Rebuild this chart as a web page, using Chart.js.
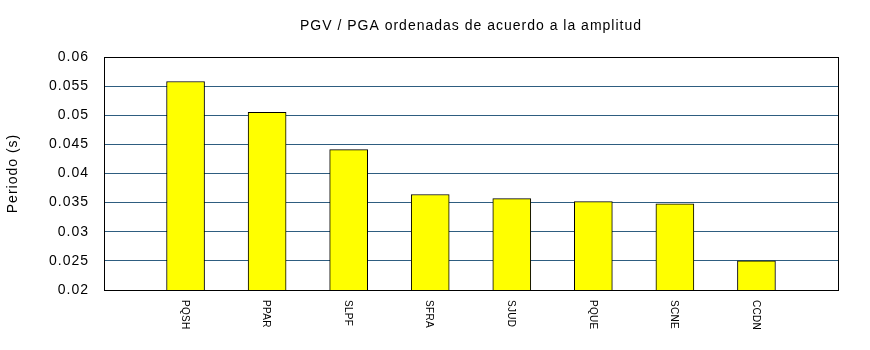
<!DOCTYPE html>
<html>
<head>
<meta charset="utf-8">
<title>PGV / PGA</title>
<script src="https://cdn.jsdelivr.net/npm/chart.js@4/dist/chart.umd.min.js"></script>
<style>
    html, body { margin: 0; padding: 0; background: #ffffff; }
    #wrap { width: 870px; height: 350px; }
</style>
</head>
<body>
<div id="wrap"><canvas id="chart" width="870" height="350"></canvas></div>
<script>
// estaciones ordenadas por amplitud
const stations = ['PQSH', 'PPAR', 'SLPF', 'SFRA', 'SJUD', 'PQUE', 'SCNE', 'CCDN'];
const periods = [0.0558, 0.0505, 0.0441, 0.0364, 0.0357, 0.0352, 0.0348, 0.0250];
const yTicks = [0.02, 0.025, 0.03, 0.035, 0.04, 0.045, 0.05, 0.055, 0.06];

const FONT = "'Liberation Sans', Arial, sans-serif";

// hueco vacío a cada lado del eje x
const labels = [''].concat(stations, ['']);
const values = [null].concat(periods, [null]);

// marco negro del área de datos + etiquetas verticales del eje x
const framePlugin = {
    id: 'frame',
    afterLayout(chart) {
        // título centrado sobre el área de datos
        if (chart.titleBlock) {
            chart.titleBlock.left = chart.chartArea.left;
            chart.titleBlock.right = chart.chartArea.right;
        }
    },
    beforeDraw(chart) {
        // texto algo más espaciado
        chart.ctx.letterSpacing = '1px';
    },
    afterDraw(chart) {
        const ctx = chart.ctx;
        const a = chart.chartArea;
        const x = chart.scales.x;
        ctx.save();
        ctx.strokeStyle = '#000000';
        ctx.lineWidth = 1;
        ctx.strokeRect(Math.round(a.left) + 0.5, Math.round(a.top) + 0.5,
            Math.round(a.right - a.left), Math.round(a.bottom - a.top));

        ctx.fillStyle = '#000000';
        ctx.font = '10px ' + FONT;
        ctx.letterSpacing = '0.3px';
        ctx.textAlign = 'left';
        ctx.textBaseline = 'middle';
        labels.forEach((lab, i) => {
            if (!lab) return;
            const px = x.getPixelForValue(i);
            ctx.save();
            ctx.translate(px - 1, a.bottom + 10);
            ctx.rotate(Math.PI / 2);
            ctx.fillText(lab, 0, 0);
            ctx.restore();
        });
        ctx.restore();
    }
};

new Chart(document.getElementById('chart'), {
    type: 'bar',
    data: {
        labels: labels,
        datasets: [{
            data: values,
            backgroundColor: '#ffff00',
            borderColor: '#000000',
            borderWidth: 1,
            borderSkipped: false,
            barThickness: 38
        }]
    },
    options: {
        responsive: false,
        animation: false,
        layout: { padding: { left: 0, right: 32, top: 0, bottom: 0 } },
        plugins: {
            legend: { display: false },
            tooltip: { enabled: false },
            title: {
                display: true,
                text: 'PGV / PGA ordenadas de acuerdo a la amplitud',
                color: '#000000',
                font: { family: FONT, size: 14, weight: 'normal' },
                padding: { top: 18, bottom: 22.2 }
            }
        },
        scales: {
            x: {
                type: 'category',
                offset: false,
                grid: { display: false },
                border: { display: false },
                ticks: { display: false },
                afterFit(scale) { scale.height = 60; }
            },
            y: {
                min: 0.02,
                max: 0.06,
                afterBuildTicks(scale) {
                    scale.ticks = yTicks.map(v => ({ value: v }));
                },
                ticks: {
                    color: '#000000',
                    padding: 15,
                    font: { family: FONT, size: 14 },
                    callback: v => String(+v.toFixed(3))
                },
                grid: { color: '#2e5d80', lineWidth: 1, drawTicks: false },
                border: { display: false },
                title: {
                    display: true,
                    text: 'Periodo (s)',
                    color: '#000000',
                    font: { family: FONT, size: 14 },
                    padding: { top: 5, bottom: 0 }
                },
                afterFit(scale) { scale.width = 104; }
            }
        }
    },
    plugins: [framePlugin]
});
</script>
</body>
</html>
